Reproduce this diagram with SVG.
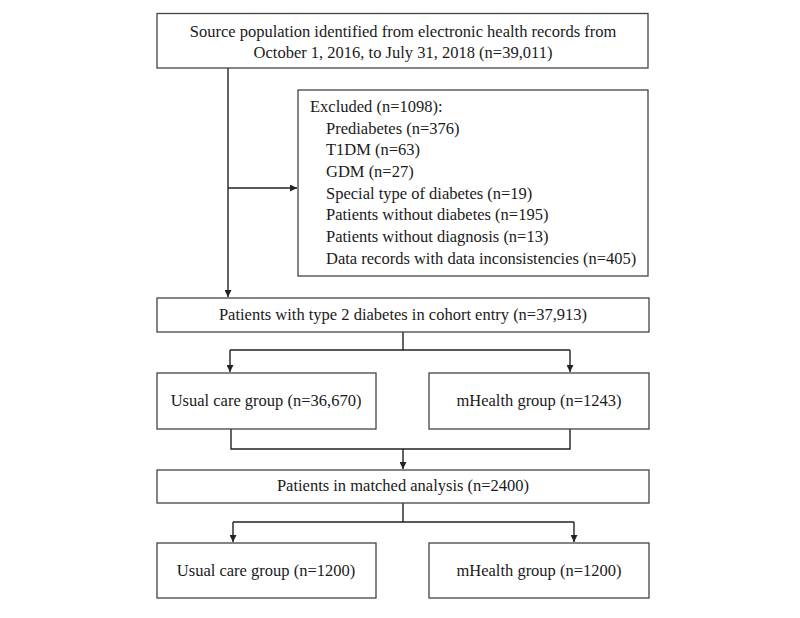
<svg xmlns="http://www.w3.org/2000/svg" width="800" height="618" viewBox="0 0 800 618">
<style>
.box{fill:#fff;stroke:#444;stroke-width:1.3}
.t{font-family:"Liberation Serif","Times New Roman",serif;font-size:16.5px;fill:#1a1a1a}
.c{text-anchor:middle}
.ln{fill:none;stroke:#222;stroke-width:1.4}
</style>
<defs>
<marker id="ah" viewBox="0 0 10 10" refX="10" refY="5" markerWidth="7" markerHeight="7" markerUnits="userSpaceOnUse" orient="auto">
<path d="M0,0 L10,5 L0,10 z" fill="#222"/>
</marker>
</defs>
<rect width="800" height="618" fill="#fff"/>
<g id="connectors">
<path class="ln" d="M228,68 V297" marker-end="url(#ah)"/>
<path class="ln" d="M228,188 H297" marker-end="url(#ah)"/>
<path class="ln" d="M403,332 V350 M230,350 H570 M230,350 V372" marker-end="url(#ah)"/>
<path class="ln" d="M570,350 V372" marker-end="url(#ah)"/>
<path class="ln" d="M231,429 V449 H570 V429 M403,449 V469" marker-end="url(#ah)"/>
<path class="ln" d="M403,503 V522 M233,522 H574 M233,522 V542" marker-end="url(#ah)"/>
<path class="ln" d="M574,522 V542" marker-end="url(#ah)"/>
</g>
<g id="source">
<rect class="box" x="157" y="13.5" width="491" height="54.5"/>
<text class="t c" x="403" y="37">Source population identified from electronic health records from</text>
<text class="t c" x="403" y="58">October 1, 2016, to July 31, 2018 (n=39,011)</text>
</g>
<g id="excluded">
<rect class="box" x="298" y="90" width="350" height="186"/>
<text class="t" x="310" y="112">Excluded (n=1098):</text>
<text class="t" x="326" y="134">Prediabetes (n=376)</text>
<text class="t" x="326" y="155">T1DM (n=63)</text>
<text class="t" x="326" y="177">GDM (n=27)</text>
<text class="t" x="326" y="199">Special type of diabetes (n=19)</text>
<text class="t" x="326" y="220">Patients without diabetes (n=195)</text>
<text class="t" x="326" y="242">Patients without diagnosis (n=13)</text>
<text class="t" x="326" y="264">Data records with data inconsistencies (n=405)</text>
</g>
<g id="cohort">
<rect class="box" x="157" y="298" width="492" height="34"/>
<text class="t c" x="403" y="320">Patients with type 2 diabetes in cohort entry (n=37,913)</text>
</g>
<g id="usual1">
<rect class="box" x="157" y="373" width="219" height="56"/>
<text class="t c" x="266" y="406">Usual care group (n=36,670)</text>
</g>
<g id="mhealth1">
<rect class="box" x="429" y="373" width="220" height="56"/>
<text class="t c" x="539" y="406">mHealth group (n=1243)</text>
</g>
<g id="matched">
<rect class="box" x="157" y="470" width="492" height="33"/>
<text class="t c" x="403" y="491">Patients in matched analysis (n=2400)</text>
</g>
<g id="usual2">
<rect class="box" x="157" y="543" width="219" height="55"/>
<text class="t c" x="266" y="576">Usual care group (n=1200)</text>
</g>
<g id="mhealth2">
<rect class="box" x="429" y="543" width="220" height="55"/>
<text class="t c" x="539" y="576">mHealth group (n=1200)</text>
</g>
</svg>
